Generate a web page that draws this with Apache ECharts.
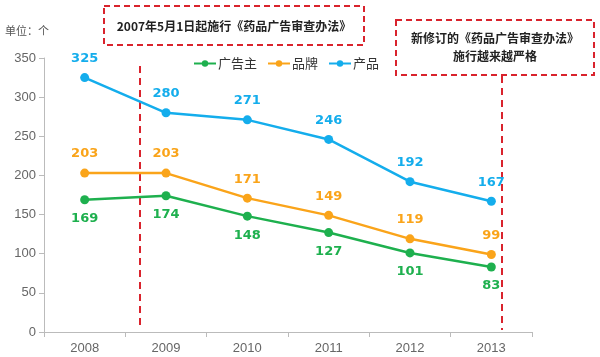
<!DOCTYPE html>
<html><head><meta charset="utf-8">
<script src="https://cdn.jsdelivr.net/npm/echarts@6/dist/echarts.min.js"></script>
<style>html,body{margin:0;padding:0;background:#fff}#c{width:600px;height:357px}</style>
</head><body><div id="c"></div>
<script>
const years = ['2008','2009','2010','2011','2012','2013'];
const advertisers = [169,174,148,127,101,83];
const brands = [203,203,171,149,119,99];
const products = [325,280,271,246,192,167];
const yTicks = [0,50,100,150,200,250,300,350];

const GREEN='#1eb04e', ORANGE='#faa41a', BLUE='#14adec', RED='#d9232d';
const chart = echarts.init(document.getElementById('c'));
function ser(name, data, color, pos){
  return {name, type:'line', data, symbol:'circle', symbolSize:9,
    lineStyle:{color, width:2.5}, itemStyle:{color},
    label:{show:true, position:pos, distance:8, color, fontWeight:'bold', fontSize:13, fontFamily:'DejaVu Sans'}};
}
chart.setOption({
  animation:false,
  grid:{left:44, right:68, top:58, bottom:25},
  legend:{top:52, left:188, itemGap:10, itemWidth:22, itemHeight:8,
    textStyle:{fontSize:13, color:'#333', fontFamily:'Noto Sans CJK SC', padding:[0,0,0,-3]},
    data:['广告主','品牌','产品']},
  xAxis:{type:'category', data:years, boundaryGap:true,
    axisLine:{lineStyle:{color:'#bbb'}}, axisTick:{show:true, lineStyle:{color:'#bbb'}},
    axisLabel:{color:'#666', fontSize:13, fontFamily:'Liberation Sans', margin:10}},
  yAxis:{type:'value', min:yTicks[0], max:yTicks[yTicks.length-1], interval:50,
    axisLine:{show:true, lineStyle:{color:'#bbb'}}, axisTick:{show:true, lineStyle:{color:'#bbb'}},
    splitLine:{show:false},
    axisLabel:{color:'#666', fontSize:13, fontFamily:'Liberation Sans', margin:8}},
  series:[
    ser('广告主', advertisers, GREEN, 'bottom'),
    ser('品牌', brands, ORANGE, 'top'),
    ser('产品', products, BLUE, 'top')
  ],
  graphic:[
    {type:'text', left:5, top:25, style:{text:'单位：个', fontSize:11, fill:'#555', fontFamily:'Noto Sans CJK SC'}},
    {type:'rect', shape:{x:104, y:6, width:260, height:39}, style:{fill:'none', stroke:RED, lineWidth:2, lineDash:[6,4]}},
    {type:'text', x:234, y:26, style:{text:'2007年5月1日起施行《药品广告审查办法》', fontSize:12, fontWeight:'bold', fill:'#222', align:'center', verticalAlign:'middle', fontFamily:'Noto Sans CJK SC'}},
    {type:'rect', shape:{x:396, y:20, width:198, height:55}, style:{fill:'none', stroke:RED, lineWidth:2, lineDash:[6,4]}},
    {type:'text', x:495, y:47, style:{text:'新修订的《药品广告审查办法》\n施行越来越严格', fontSize:12, fontWeight:'bold', fill:'#222', align:'center', verticalAlign:'middle', lineHeight:18, fontFamily:'Noto Sans CJK SC'}},
    {type:'line', shape:{x1:140, y1:66, x2:140, y2:330}, style:{stroke:RED, lineWidth:2, lineDash:[7,5]}},
    {type:'line', shape:{x1:502, y1:76, x2:502, y2:330}, style:{stroke:RED, lineWidth:2, lineDash:[7,5]}}
  ]
});
</script></body></html>
